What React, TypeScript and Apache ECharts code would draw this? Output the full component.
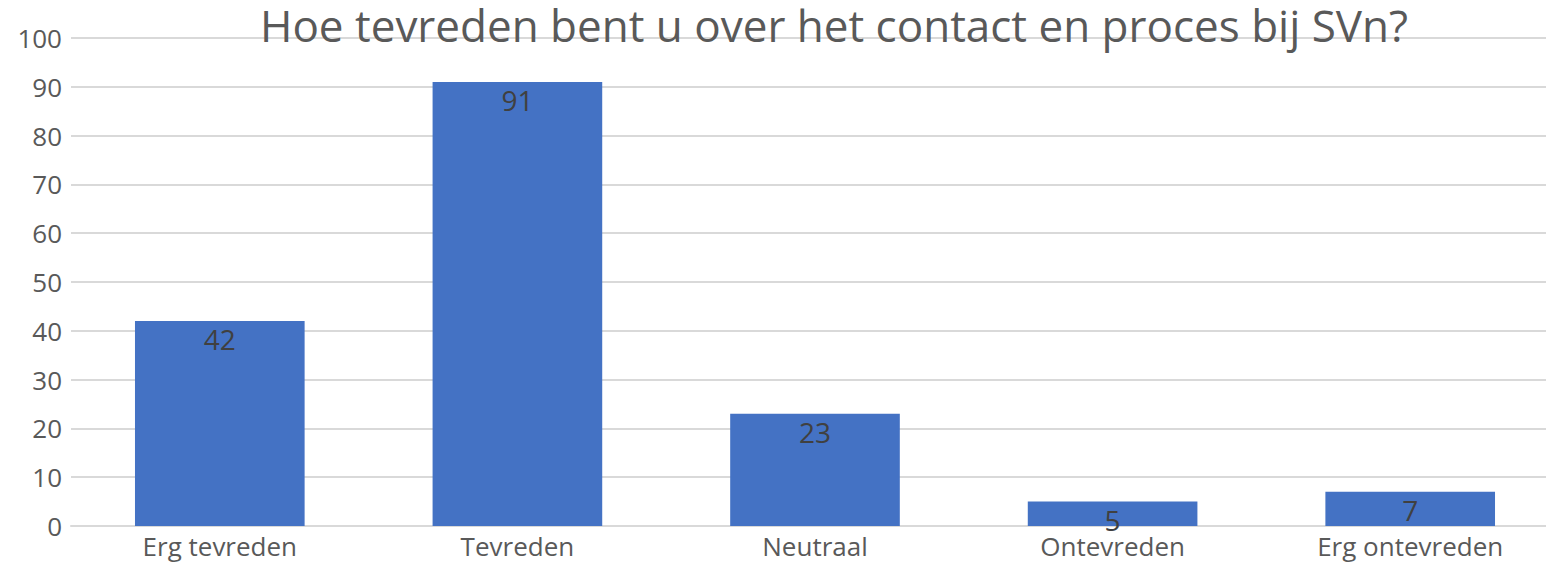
import React, { useEffect, useRef } from "react";
import * as echarts from "echarts";

const categories = ["Erg tevreden", "Tevreden", "Neutraal", "Ontevreden", "Erg ontevreden"];
const values = [42, 91, 23, 5, 7];
const titleText = "Hoe tevreden bent u over het contact en proces bij SVn?";

export default function App() {
  const ref = useRef<HTMLDivElement>(null);
  useEffect(() => {
    const chart = echarts.init(ref.current!, null, { renderer: "svg" });
    chart.setOption({
      animation: false,
      backgroundColor: "#ffffff",
      title: {
        text: titleText,
        left: 834,
        top: 2,
        padding: 0,
        textAlign: "center",
        textStyle: { fontFamily: "Open Sans", fontSize: 44, lineHeight: 46, fontWeight: "normal", color: "#595959" },
      },
      grid: { left: 71, right: 0, top: 38, bottom: 39 },
      xAxis: {
        type: "category",
        data: categories,
        axisLine: { show: true, lineStyle: { color: "#d9d9d9", width: 2 } },
        axisTick: { show: false },
        axisLabel: { fontFamily: "Open Sans", fontSize: 26, color: "#595959", margin: 7 },
      },
      yAxis: {
        type: "value",
        min: 0,
        max: 100,
        interval: 10,
        axisLine: { show: false },
        axisTick: { show: false },
        splitLine: { lineStyle: { color: "#d9d9d9", width: 2 } },
        axisLabel: { fontFamily: "Open Sans", fontSize: 26, color: "#595959", margin: 9 },
      },
      series: [
        {
          type: "bar",
          data: values,
          barWidth: "57%",
          itemStyle: { color: "#4472c4" },
          label: {
            show: true,
            position: "insideTop",
            distance: 4,
            fontFamily: "Open Sans",
            fontSize: 28,
            color: "#404040",
          },
        },
      ],
    });
    return () => chart.dispose();
  }, []);
  return (
    <div style={{ position: "absolute", left: 0, top: 0, width: 1546, height: 565, overflow: "hidden" }}>
      <div ref={ref} style={{ position: "absolute", left: 0, top: 0, width: 1559, height: 565 }} />
    </div>
  );
}
